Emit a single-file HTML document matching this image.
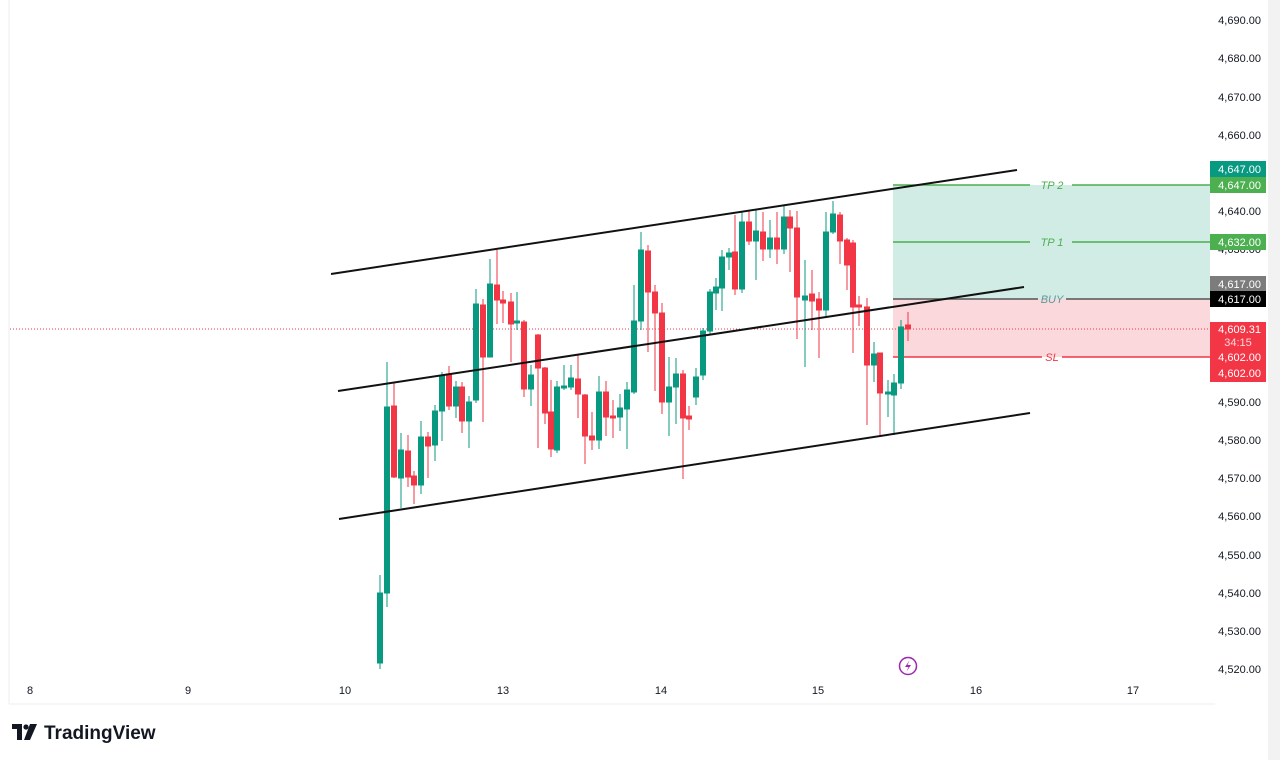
<!DOCTYPE html>
<html><head><meta charset="utf-8"><style>
html,body{margin:0;padding:0;background:#fff;width:1280px;height:760px;overflow:hidden;font-family:"Liberation Sans",sans-serif}
</style></head><body>
<svg width="1280" height="760" viewBox="0 0 1280 760" xmlns="http://www.w3.org/2000/svg" font-family="Liberation Sans, sans-serif">
<rect x="1268" y="0" width="12" height="760" fill="#f2f2f2"/>
<line x1="9" y1="0" x2="9" y2="704" stroke="#eceef2"/>
<line x1="9" y1="704" x2="1215" y2="704" stroke="#eceef2"/>
<!-- zones -->
<rect x="893" y="185" width="317" height="114" fill="#d1ece5"/>
<rect x="893" y="299" width="317" height="58" fill="#fad8dc"/>
<line x1="10" y1="329" x2="1210" y2="329" stroke="#f23645" stroke-width="1" stroke-dasharray="1,2"/>
<g stroke-width="1.5">
<line x1="893" y1="185" x2="1030" y2="185" stroke="#4caf50"/><line x1="1072" y1="185" x2="1210" y2="185" stroke="#4caf50"/>
<line x1="893" y1="242" x2="1030" y2="242" stroke="#4caf50"/><line x1="1072" y1="242" x2="1210" y2="242" stroke="#4caf50"/>
<line x1="893" y1="299" x2="1038" y2="299" stroke="#555"/><line x1="1066" y1="299" x2="1210" y2="299" stroke="#555"/>
<line x1="893" y1="357" x2="1042" y2="357" stroke="#f23645"/><line x1="1062" y1="357" x2="1210" y2="357" stroke="#f23645"/>
</g>
<g font-size="11" font-style="italic" text-anchor="middle">
<text x="1052" y="189" fill="#4caf50">TP 2</text>
<text x="1052" y="246" fill="#4caf50">TP 1</text>
<text x="1052" y="303" fill="#5a9a9a">BUY</text>
<text x="1052" y="361" fill="#f23645">SL</text>
</g>
<!-- candles -->
<g id="c"></g>
<g stroke-width="1">
<!-- green wicks/bodies -->
<g stroke="#089981" fill="#089981">
<line x1="380" y1="575" x2="380" y2="669"/><rect x="377.5" y="593" width="5" height="70"/>
<line x1="387" y1="362" x2="387" y2="607"/><rect x="384.5" y="407" width="5" height="186"/>
<line x1="401" y1="433" x2="401" y2="508"/><rect x="398.5" y="450" width="5" height="28"/>
<line x1="421" y1="421" x2="421" y2="494"/><rect x="418.5" y="437" width="5" height="48"/>
<line x1="435" y1="405" x2="435" y2="461"/><rect x="432.5" y="411" width="5" height="34"/>
<line x1="442" y1="372" x2="442" y2="441"/><rect x="439.5" y="376" width="5" height="35"/>
<line x1="456" y1="381" x2="456" y2="418"/><rect x="453.5" y="387" width="5" height="19"/>
<line x1="469" y1="396" x2="469" y2="448"/><rect x="466.5" y="402" width="5" height="19"/>
<line x1="476" y1="289" x2="476" y2="403"/><rect x="473.5" y="304" width="5" height="96"/>
<line x1="490" y1="259" x2="490" y2="357"/><rect x="487.5" y="284" width="5" height="73"/>
<line x1="517" y1="292" x2="517" y2="330"/><rect x="514.5" y="321" width="5" height="2"/>
<line x1="531" y1="365" x2="531" y2="406"/><rect x="528.5" y="375" width="5" height="14"/>
<line x1="557" y1="381" x2="557" y2="453"/><rect x="554.5" y="387" width="5" height="63"/>
<line x1="564" y1="365" x2="564" y2="390"/><rect x="561.5" y="386" width="5" height="2"/>
<line x1="571" y1="365" x2="571" y2="390"/><rect x="568.5" y="378" width="5" height="9"/>
<line x1="599" y1="376" x2="599" y2="449"/><rect x="596.5" y="392" width="5" height="48"/>
<line x1="620" y1="394" x2="620" y2="431"/><rect x="617.5" y="408" width="5" height="9"/>
<line x1="627" y1="382" x2="627" y2="449"/><rect x="624.5" y="390" width="5" height="19"/>
<line x1="634" y1="285" x2="634" y2="394"/><rect x="631.5" y="321" width="5" height="71"/>
<line x1="641" y1="232" x2="641" y2="330"/><rect x="638.5" y="250" width="5" height="71"/>
<line x1="669" y1="357" x2="669" y2="436"/><rect x="666.5" y="387" width="5" height="15"/>
<line x1="676" y1="358" x2="676" y2="424"/><rect x="673.5" y="374" width="5" height="13"/>
<line x1="696" y1="368" x2="696" y2="405"/><rect x="693.5" y="377" width="5" height="20"/>
<line x1="703" y1="328" x2="703" y2="380"/><rect x="700.5" y="331" width="5" height="44"/>
<line x1="710" y1="289" x2="710" y2="335"/><rect x="707.5" y="292" width="5" height="39"/>
<line x1="716" y1="278" x2="716" y2="310"/><rect x="713.5" y="287" width="5" height="6"/>
<line x1="722" y1="250" x2="722" y2="311"/><rect x="719.5" y="257" width="5" height="31"/>
<line x1="729" y1="248" x2="729" y2="270"/><rect x="726.5" y="253" width="5" height="4"/>
<line x1="742" y1="212" x2="742" y2="293"/><rect x="739.5" y="222" width="5" height="67"/>
<line x1="756" y1="209" x2="756" y2="280"/><rect x="753.5" y="231" width="5" height="10"/>
<line x1="770" y1="220" x2="770" y2="258"/><rect x="767.5" y="238" width="5" height="11"/>
<line x1="784" y1="205" x2="784" y2="254"/><rect x="781.5" y="217" width="5" height="32"/>
<line x1="805" y1="260" x2="805" y2="367"/><rect x="802.5" y="296" width="5" height="4"/>
<line x1="826" y1="212" x2="826" y2="317"/><rect x="823.5" y="232" width="5" height="78"/>
<line x1="833" y1="201" x2="833" y2="234"/><rect x="830.5" y="214" width="5" height="18"/>
<line x1="874" y1="342" x2="874" y2="382"/><rect x="871.5" y="354" width="5" height="11"/>
<line x1="888" y1="380" x2="888" y2="417"/><rect x="885.5" y="392" width="5" height="2"/>
<line x1="894" y1="374" x2="894" y2="435"/><rect x="891.5" y="383" width="5" height="12"/>
<line x1="901" y1="320" x2="901" y2="389"/><rect x="898.5" y="327" width="5" height="56"/>
</g>
<g stroke="#f23645" fill="#f23645">
<line x1="394" y1="383" x2="394" y2="478"/><rect x="391.5" y="406" width="5" height="71"/>
<line x1="408" y1="435" x2="408" y2="487"/><rect x="405.5" y="451" width="5" height="26"/>
<line x1="414" y1="471" x2="414" y2="504"/><rect x="411.5" y="476" width="5" height="9"/>
<line x1="428" y1="432" x2="428" y2="478"/><rect x="425.5" y="437" width="5" height="9"/>
<line x1="449" y1="366" x2="449" y2="410"/><rect x="446.5" y="374" width="5" height="32"/>
<line x1="462" y1="382" x2="462" y2="433"/><rect x="459.5" y="387" width="5" height="34"/>
<line x1="483" y1="299" x2="483" y2="422"/><rect x="480.5" y="305" width="5" height="52"/>
<line x1="497" y1="250" x2="497" y2="324"/><rect x="494.5" y="285" width="5" height="15"/>
<line x1="503" y1="291" x2="503" y2="323"/><rect x="500.5" y="300" width="5" height="3"/>
<line x1="511" y1="293" x2="511" y2="362"/><rect x="508.5" y="302" width="5" height="22"/>
<line x1="524" y1="320" x2="524" y2="397"/><rect x="521.5" y="322" width="5" height="67"/>
<line x1="538" y1="334" x2="538" y2="448"/><rect x="535.5" y="335" width="5" height="33"/>
<line x1="545" y1="367" x2="545" y2="424"/><rect x="542.5" y="368" width="5" height="45"/>
<line x1="551" y1="380" x2="551" y2="457"/><rect x="548.5" y="412" width="5" height="37"/>
<line x1="578" y1="355" x2="578" y2="418"/><rect x="575.5" y="379" width="5" height="15"/>
<line x1="585" y1="394" x2="585" y2="464"/><rect x="582.5" y="395" width="5" height="41"/>
<line x1="592" y1="412" x2="592" y2="450"/><rect x="589.5" y="436" width="5" height="4"/>
<line x1="606" y1="381" x2="606" y2="436"/><rect x="603.5" y="392" width="5" height="25"/>
<line x1="613" y1="400" x2="613" y2="438"/><rect x="610.5" y="416" width="5" height="2"/>
<line x1="648" y1="245" x2="648" y2="352"/><rect x="645.5" y="251" width="5" height="41"/>
<line x1="655" y1="285" x2="655" y2="391"/><rect x="652.5" y="292" width="5" height="21"/>
<line x1="662" y1="303" x2="662" y2="414"/><rect x="659.5" y="313" width="5" height="89"/>
<line x1="683" y1="370" x2="683" y2="479"/><rect x="680.5" y="374" width="5" height="44"/>
<line x1="689" y1="406" x2="689" y2="430"/><rect x="686.5" y="416" width="5" height="3"/>
<line x1="735" y1="215" x2="735" y2="295"/><rect x="732.5" y="252" width="5" height="37"/>
<line x1="749" y1="210" x2="749" y2="245"/><rect x="746.5" y="222" width="5" height="19"/>
<line x1="763" y1="212" x2="763" y2="261"/><rect x="760.5" y="232" width="5" height="17"/>
<line x1="777" y1="212" x2="777" y2="264"/><rect x="774.5" y="238" width="5" height="11"/>
<line x1="790" y1="210" x2="790" y2="272"/><rect x="787.5" y="217" width="5" height="11"/>
<line x1="797" y1="211" x2="797" y2="339"/><rect x="794.5" y="228" width="5" height="69"/>
<line x1="812" y1="270" x2="812" y2="330"/><rect x="809.5" y="294" width="5" height="7"/>
<line x1="819" y1="292" x2="819" y2="358"/><rect x="816.5" y="299" width="5" height="11"/>
<line x1="840" y1="212" x2="840" y2="264"/><rect x="837.5" y="215" width="5" height="26"/>
<line x1="847" y1="238" x2="847" y2="290"/><rect x="844.5" y="240" width="5" height="25"/>
<line x1="853" y1="240" x2="853" y2="353"/><rect x="850.5" y="243" width="5" height="64"/>
<line x1="859" y1="296" x2="859" y2="326"/><rect x="856.5" y="305" width="5" height="2"/>
<line x1="867" y1="298" x2="867" y2="425"/><rect x="864.5" y="307" width="5" height="58"/>
<line x1="880" y1="353" x2="880" y2="437"/><rect x="877.5" y="353" width="5" height="40"/>
<line x1="908" y1="312" x2="908" y2="341"/><rect x="905.5" y="325" width="5" height="4"/>
</g>
</g>
<!-- trendlines -->
<g stroke="#111" stroke-width="2">
<line x1="331" y1="274" x2="1017" y2="170"/>
<line x1="338" y1="391" x2="1024" y2="287"/>
<line x1="339" y1="519" x2="1030" y2="413"/>
</g>
<!-- price axis -->
<g font-size="11" fill="#131722" text-anchor="end">
<text x="1261" y="24">4,690.00</text>
<text x="1261" y="62">4,680.00</text>
<text x="1261" y="101">4,670.00</text>
<text x="1261" y="139">4,660.00</text>
<text x="1261" y="215">4,640.00</text>
<text x="1261" y="253">4,630.00</text>
<text x="1261" y="406">4,590.00</text>
<text x="1261" y="444">4,580.00</text>
<text x="1261" y="482">4,570.00</text>
<text x="1261" y="520">4,560.00</text>
<text x="1261" y="559">4,550.00</text>
<text x="1261" y="597">4,540.00</text>
<text x="1261" y="635">4,530.00</text>
<text x="1261" y="673">4,520.00</text>
</g>
<rect x="1210" y="161" width="56" height="16" fill="#089981"/>
<rect x="1210" y="177" width="56" height="16" fill="#4caf50"/>
<rect x="1210" y="234" width="56" height="16" fill="#4caf50"/>
<rect x="1210" y="276" width="56" height="15" fill="#7c7c7c"/>
<rect x="1210" y="291" width="56" height="16" fill="#000"/>
<rect x="1210" y="322" width="56" height="60" fill="#f23645"/>
<g font-size="11" fill="#fff" text-anchor="end">
<text x="1261" y="173">4,647.00</text>
<text x="1261" y="189">4,647.00</text>
<text x="1261" y="246">4,632.00</text>
<text x="1261" y="288">4,617.00</text>
<text x="1261" y="303">4,617.00</text>
<text x="1261" y="333">4,609.31</text>
<text x="1238" y="346" text-anchor="middle" fill="#ffd6da">34:15</text>
<text x="1261" y="361">4,602.00</text>
<text x="1261" y="377">4,602.00</text>
</g>
<!-- time axis -->
<g font-size="11" fill="#131722" text-anchor="middle">
<text x="30" y="694">8</text><text x="188" y="694">9</text><text x="345" y="694">10</text>
<text x="503" y="694">13</text><text x="661" y="694">14</text><text x="818" y="694">15</text>
<text x="976" y="694">16</text><text x="1133" y="694">17</text>
</g>
<circle cx="908" cy="666" r="8.5" fill="none" stroke="#9c27b0" stroke-width="1.5"/>
<path d="M909.5 660.5 L905 667 L908.5 667 L906.5 671.5 L911 665 L907.5 665 Z" fill="#9c27b0"/>
<!-- logo -->
<path d="M12 724 H22 V740 H17 V729 H12 Z" fill="#131722"/>
<circle cx="26" cy="727" r="2.6" fill="#131722"/>
<path d="M30 724 H37 L30 740 H24 Z" fill="#131722"/>
<text x="44" y="739" font-size="19" font-weight="bold" fill="#131722">TradingView</text>
</svg>
</body></html>
